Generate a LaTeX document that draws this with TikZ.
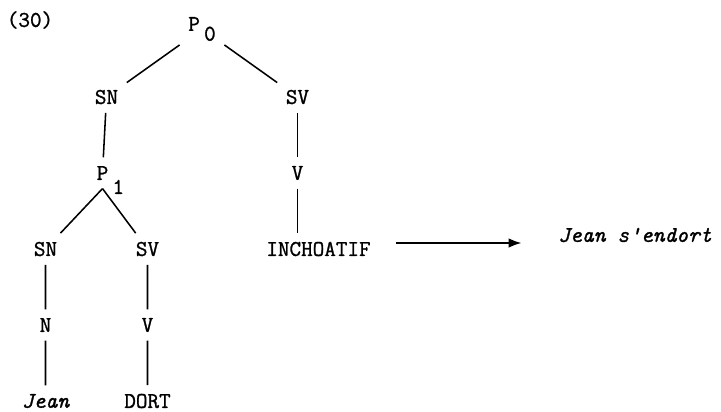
\documentclass[tikz,border=0pt]{standalone}
\usepackage{fontspec}
\setmonofont{Latin Modern Mono}[FakeBold=1.2]
\usetikzlibrary{arrows.meta}
\begin{document}
\begin{tikzpicture}[level/.style={level distance=1.9cm},
  level 1/.style={sibling distance=4.775cm, level distance=1.7cm},
  level 3/.style={sibling distance=2.55cm,
    edge from parent path={(\tikzparentnode.south) -- (\tikzchildnode)}},
  edge from parent/.style={draw,line width=1.1pt}]
\tikzset{every node/.style={inner sep=6pt,font=\ttfamily\fontsize{16}{18}\selectfont}}
\tikzset{arrow/.style={-{Latex[length=0.33cm,width=0.24cm]},line width=1.8pt}}
%\tikzset{every node/.style={draw,inner sep=6pt}}
\useasboundingbox (0,0) rectangle (18.025,-10.275);
\node (ex) at (0.75,-0.5) {(30)};
\node (p0) at (5.05,-0.725) {P\raisebox{-7pt}{\kern3pt 0}}
    child {
        node (sn0) {SN}
        child[xshift=-0.1cm] {
            node (p1) {P\rlap{\kern3pt\smash{\raisebox{-10pt}{1}}}}
            child[xshift=-0.15cm] {
                node (sn1) {SN}
                child {
                    node (n1) {N}
                    child {node (jean) {\itshape Jean}}
                }
            }
            child[xshift=-0.15cm] {
                node (sv1) {SV}
                child {
                    node (v1) {V}
                    child {node (dort) {DORT}}
                }
            }
        }
    }
    child {
        node (sv0) {SV}
        child {
            node (v0) {V}
            child[xshift=0.525cm,
                  edge from parent path={(\tikzparentnode) -- (\tikzparentnode |- \tikzchildnode.north)}] {
                node (inch) {INCHOATIF}
            }
        }
    };
\node (res) at (15.875,-5.875) {\itshape Jean s'endort};
\coordinate (a) at ([yshift=0.15cm]inch.east);
\draw[arrow,shorten <=0.41cm,shorten >=0.69cm] (a) -- (a -| res.west);
\end{tikzpicture}
\end{document}
